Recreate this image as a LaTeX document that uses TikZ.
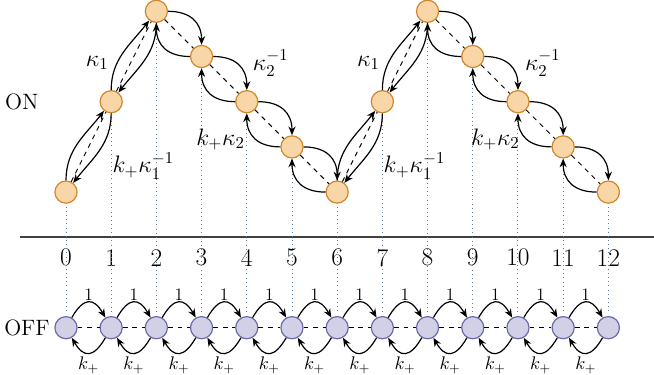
\RequirePackage{fix-cm}
\documentclass[tikz,border=0pt]{standalone}
\usepackage{amsmath}
\usepackage{tikz}
\definecolor{onfill}{RGB}{249,214,168}
\definecolor{ondraw}{RGB}{208,134,42}
\definecolor{offfill}{RGB}{209,208,230}
\definecolor{offdraw}{RGB}{106,106,168}
\definecolor{dotblue}{RGB}{96,124,156}
\usetikzlibrary{arrows.meta,positioning}

\begin{document}
\begin{tikzpicture}[
  onstate/.style={circle,draw=ondraw,fill=onfill,line width=0.75pt,minimum size=0.49cm,inner sep=0pt},
  offstate/.style={circle,draw=offdraw,fill=offfill,line width=0.75pt,minimum size=0.49cm,inner sep=0pt},
  arc/.style={-{Stealth[length=5.5pt,width=4.5pt]},line width=0.75pt},
  link/.style={dashed,line width=0.6pt},
  dotline/.style={dotted,dotblue,line width=0.6pt,shorten >=3pt,shorten <=2pt},
  ratelabel/.style={font=\fontsize{15}{17}\selectfont},
]
  \useasboundingbox (-1.46,-1.025) rectangle (13.01,7.25);

  % Axis
  \coordinate (axisL) at (-1.02,2);
  \coordinate (axisR) at (13.01,2);
  \draw[line width=1pt,black!75] (axisL) -- (axisR);
  \foreach \i in {0,...,12}
    \node[font=\fontsize{16}{18}\selectfont] (num\i) at (\i,1.55) {\i};

  % Row labels
  \node[font=\fontsize{14}{16}\selectfont,anchor=west] (onlabel) at (-1.47,5) {ON};
  \node[font=\fontsize{14}{16}\selectfont,anchor=west] (offlabel) at (-1.49,0) {OFF};

  % ON states
  \foreach \i/\y in {0/3,1/5,2/7,3/6,4/5,5/4,6/3,7/5,8/7,9/6,10/5,11/4,12/3}
    \node[onstate] (on\i) at (\i,\y) {};

  % OFF states
  \foreach \i in {0,...,12}
    \node[offstate] (off\i) at (\i,0) {};

  % Dotted guides
  \foreach \i in {0,...,12}
    \draw[dotline] (on\i) -- (off\i);

  % ON rising steps
  \foreach \a/\b in {0/1,1/2,6/7,7/8} {
    \draw[link] (on\a) -- (on\b);
    \draw[arc] (on\a) to[out=90,in=232] (on\b);
    \draw[arc] (on\b) to[out=-90,in=52] (on\a);
  }

  % ON falling steps
  \foreach \a/\b in {2/3,3/4,4/5,5/6,8/9,9/10,10/11,11/12} {
    \draw[link] (on\a) -- (on\b);
    \draw[arc] (on\a) to[out=0,in=90,looseness=1.2] (on\b);
    \draw[arc] (on\b) to[out=180,in=-90,looseness=1.2] (on\a);
  }

  % OFF steps
  \foreach \a/\b in {0/1,1/2,2/3,3/4,4/5,5/6,6/7,7/8,8/9,9/10,10/11,11/12} {
    \draw[link] (off\a) -- (off\b);
    \draw[arc] (off\a) to[out=60,in=120,looseness=1.8]
      node[above=1pt,inner sep=0pt,font=\fontsize{11}{13}\selectfont] {1} (off\b);
    \draw[arc] (off\b) to[out=-120,in=-60,looseness=1.8]
      node[below=2pt,inner sep=0pt,font=\fontsize{11.5}{13}\selectfont] {$k_+$} (off\a);
  }

  % Rate labels
  \node[ratelabel] (kapA) at (0.69,5.86) {$\kappa_1$};
  \node[ratelabel] (kapB) at (6.69,5.86) {$\kappa_1$};
  \node[ratelabel] (kapinvA) at (1.71,3.58) {$k_+\kappa_1^{-1}$};
  \node[ratelabel] (kapinvB) at (7.71,3.58) {$k_+\kappa_1^{-1}$};
  \node[ratelabel] (kaptwoA) at (4.53,5.85) {$\kappa_2^{-1}$};
  \node[ratelabel] (kaptwoB) at (10.55,5.85) {$\kappa_2^{-1}$};
  \node[ratelabel] (kpA) at (3.42,4.17) {$k_+\kappa_2$};
  \node[ratelabel] (kpB) at (9.5,4.17) {$k_+\kappa_2$};
\end{tikzpicture}
\end{document}
